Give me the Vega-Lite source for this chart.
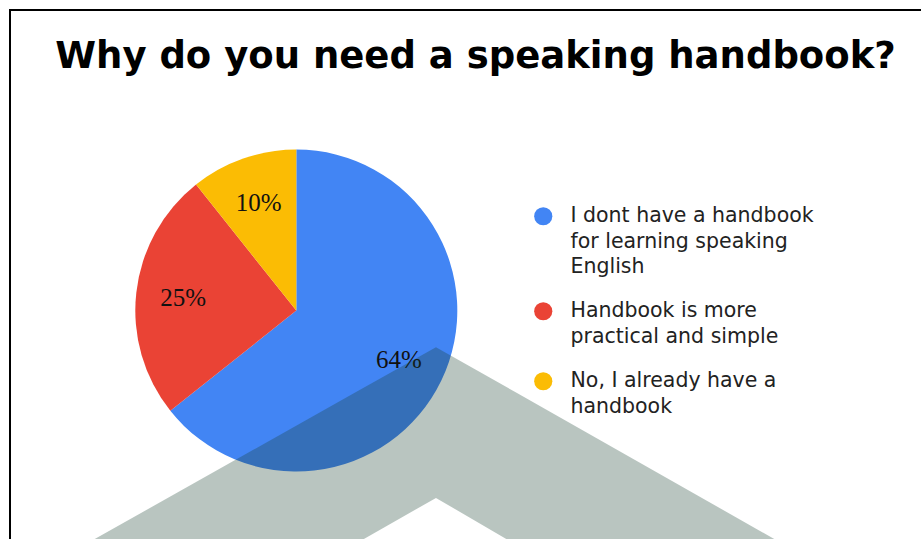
{
  "$schema": "https://vega.github.io/schema/vega-lite/v6.json",
  "width": 921,
  "height": 539,
  "autosize": {"type": "fit", "contains": "padding"},
  "padding": {"left": 10, "top": 10, "right": -6, "bottom": -6},
  "background": "white",
  "config": {"view": {"stroke": "#000000", "strokeWidth": 2}},
  "title": {
    "text": "Why do you need a speaking handbook?",
    "font": "DejaVu Sans",
    "fontSize": 37,
    "fontWeight": "bold",
    "color": "#000000",
    "anchor": "middle",
    "frame": "group",
    "baseline": "alphabetic",
    "offset": -95,
    "dx": 7
  },
  "datasets": {
    "answers": [
      {"answer": "I dont have a handbook for learning speaking English", "value": 64.3, "label": "64%"},
      {"answer": "Handbook is more practical and simple", "value": 25.0, "label": "25%"},
      {"answer": "No, I already have a handbook", "value": 10.7, "label": "10%"}
    ],
    "chevron": [
      {"px": 74, "top": 534, "bottom": 534},
      {"px": 343, "top": 382.9, "bottom": 534},
      {"px": 425.5, "top": 336.5, "bottom": 487},
      {"px": 506, "top": 382.1, "bottom": 534},
      {"px": 774, "top": 534, "bottom": 534}
    ]
  },
  "layer": [
    {
      "data": {"name": "answers"},
      "mark": {"type": "arc", "outerRadius": 161},
      "encoding": {
        "x": {"datum": 286, "type": "quantitative", "scale": {"domain": [0, 916], "nice": false, "zero": false}, "axis": null},
        "y": {"datum": 300, "type": "quantitative", "scale": {"domain": [0, 534], "nice": false, "zero": false, "reverse": true}, "axis": null},
        "theta": {"field": "value", "type": "quantitative", "stack": true},
        "order": {"field": "value", "sort": "descending"},
        "color": {
          "field": "answer",
          "type": "nominal",
          "scale": {
            "domain": ["I dont have a handbook for learning speaking English", "Handbook is more practical and simple", "No, I already have a handbook"],
            "range": ["#4285f4", "#ea4335", "#fbbc04"]
          },
          "legend": {
            "title": null,
            "orient": "none",
            "legendX": 523,
            "legendY": 196,
            "symbolType": "circle",
            "symbolSize": 330,
            "symbolStrokeWidth": 0,
            "labelFont": "DejaVu Sans",
            "labelFontSize": 20.5,
            "labelColor": "#222222",
            "labelLimit": 400,
            "labelOffset": 17,
            "labelBaseline": "top",
            "rowPadding": 23,
            "labelExpr": "datum.label == 'I dont have a handbook for learning speaking English' ? ['I dont have a handbook', 'for learning speaking', 'English'] : datum.label == 'Handbook is more practical and simple' ? ['Handbook is more', 'practical and simple'] : ['No, I already have a', 'handbook']",
            "encode": {"labels": {"update": {"lineHeight": {"value": 25.5}, "dy": {"value": -10}}}}
          }
        }
      }
    },
    {
      "data": {"name": "answers"},
      "mark": {"type": "text", "radius": 114, "font": "Liberation Serif", "fontSize": 25, "color": "#111111", "baseline": "middle", "align": "center"},
      "encoding": {
        "x": {"datum": 286, "type": "quantitative"},
        "y": {"datum": 300, "type": "quantitative"},
        "theta": {"field": "value", "type": "quantitative", "stack": true},
        "order": {"field": "value", "sort": "descending"},
        "text": {"field": "label"}
      }
    },
    {
      "data": {"name": "chevron"},
      "mark": {"type": "area", "color": "#163e2d", "opacity": 0.3, "interpolate": "linear"},
      "encoding": {
        "x": {"field": "px", "type": "quantitative"},
        "y": {"field": "top", "type": "quantitative"},
        "y2": {"field": "bottom"}
      }
    }
  ]
}
